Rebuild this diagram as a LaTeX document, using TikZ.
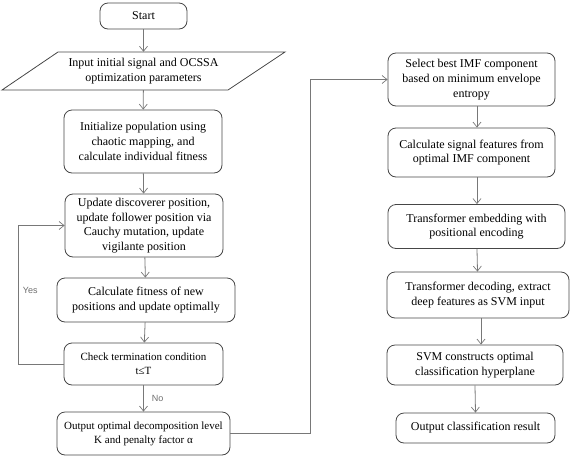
\documentclass[tikz,border=0pt]{standalone}
\usepackage{fontspec}
\setmainfont{Liberation Serif}
\setsansfont{Liberation Sans}
\usetikzlibrary{arrows.meta,calc}
\definecolor{boxc}{RGB}{70,70,70}
\definecolor{linec}{RGB}{120,120,120}
\definecolor{labc}{RGB}{110,110,110}
\begin{document}
\begin{tikzpicture}[x=1pt,y=-1pt,
  stepbox/.style={draw=boxc,line width=0.8pt,rounded corners=8pt,inner sep=0pt,align=center,
    font=\fontsize{12}{14.7}\selectfont},
  plainbox/.style={inner sep=0pt,align=center,font=\fontsize{12}{14.7}\selectfont},
  conn/.style={draw=linec,line width=0.8pt,-{Straight Barb[length=5pt,width=8pt,line width=0.7pt]}},
  lab/.style={font=\sffamily\fontsize{9}{10}\selectfont,text=labc,inner sep=0pt}]
\useasboundingbox (0,0) rectangle (571,456);
% left column
\node[stepbox,minimum width=87pt,minimum height=26pt] (start) at (143.5,16) {Start};
\node[plainbox,minimum width=10pt,minimum height=38pt] (input) at (143.5,71) {Input initial signal and OCSSA\\optimization parameters};
\draw[draw=boxc,line width=0.8pt] (2,90) -- (58,52) -- (285,52) -- (228,90) -- cycle;
\node[stepbox,minimum width=158pt,minimum height=63pt] (init) at (143,141.5) {Initialize population using\\chaotic mapping, and\\calculate individual fitness};
\node[stepbox,minimum width=158pt,minimum height=63pt] (update) at (144,225.5) {Update discoverer position,\\update follower position via\\Cauchy mutation, update\\vigilante position};
\node[stepbox,minimum width=178pt,minimum height=44pt] (fit) at (146,300) {Calculate fitness of new\\positions and update optimally};
\node[stepbox,minimum width=159pt,minimum height=42pt,font=\fontsize{11}{14}\selectfont] (check) at (143.5,364) {Check termination condition\\t≤T};
\node[stepbox,minimum width=173pt,minimum height=43pt,font=\fontsize{11}{14}\selectfont] (outopt) at (143.5,433.5) {Output optimal decomposition level\\K and penalty factor α};
% right column
\node[stepbox,minimum width=167pt,minimum height=53pt] (select) at (471.5,79.5) {Select best IMF component\\based on minimum envelope\\entropy};
\node[stepbox,minimum width=167pt,minimum height=49pt] (feat) at (471.5,152.5) {Calculate signal features from\\optimal IMF component};
\node[stepbox,minimum width=177pt,minimum height=44pt] (emb) at (476.5,226.5) {Transformer embedding with\\positional encoding};
\node[stepbox,minimum width=182pt,minimum height=46pt] (dec) at (478,295) {Transformer decoding, extract\\deep features as SVM input};
\node[stepbox,minimum width=176pt,minimum height=40pt] (svm) at (475,365) {SVM constructs optimal\\classification hyperplane};
\node[stepbox,minimum width=159pt,minimum height=30pt] (outcls) at (475.5,428) {Output classification result};
% connectors left
\draw[conn] (start) -- (input);
\draw[conn] (input) -- (init);
\draw[conn] (init) -- (update);
\draw[conn] (update) -- (fit);
\draw[conn] (fit) -- (check);
\draw[conn] (check) -- node[lab,right=8pt] (no) {No} (outopt);
\draw[conn] (check.west) -- ++(-45,0) |- node[lab,pos=0.265,right=4pt] (yes) {Yes} (update.west);
\draw[conn] (outopt.east) -- ++(80,0) |- (select.west);
% connectors right
\draw[conn] ([xshift=5.5pt]select.south) -- ([xshift=5.5pt]feat.north);
\draw[conn] ([xshift=5.5pt]feat.south) -- ([xshift=0.5pt]emb.north);
\draw[conn] ([xshift=0.5pt]emb.south) -- ([xshift=-0.5pt]dec.north);
\draw[conn] ([xshift=3pt]dec.south) -- ([xshift=6pt]svm.north);
\draw[conn] (svm.south) -- (outcls.north);
\end{tikzpicture}
\end{document}
